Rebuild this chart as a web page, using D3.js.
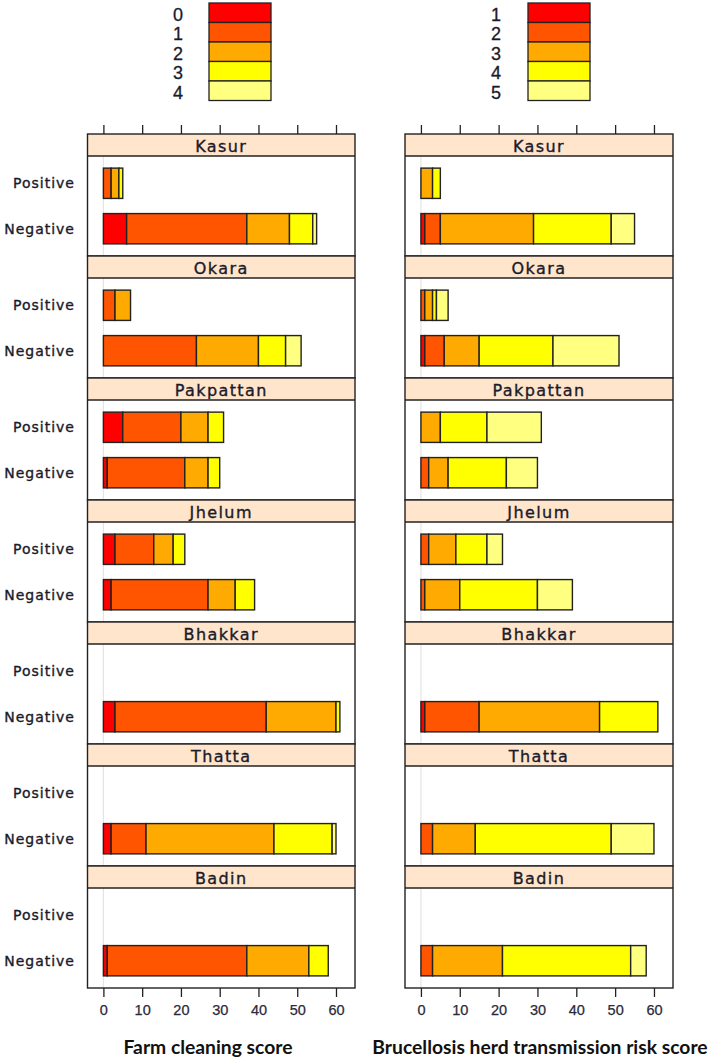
<!DOCTYPE html>
<html>
<head>
<meta charset="utf-8">
<script src="https://cdn.jsdelivr.net/npm/d3@7"></script>
<style>
  body { margin: 0; background: #fff; }
  svg { display: block; }
</style>
</head>
<body>
<script>
let districts = ['Kasur', 'Okara', 'Pakpattan', 'Jhelum', 'Bhakkar', 'Thatta', 'Badin'];
let statuses = ['Positive', 'Negative'];
let cleaningLevels = ['0', '1', '2', '3', '4'];
let riskLevels = ['1', '2', '3', '4', '5'];
let levelColors = ['#ff0000', '#ff5500', '#ffaa00', '#ffff00', '#ffff80'];
let xTicks = [0, 10, 20, 30, 40, 50, 60];

// number of farms per score level, one row per district
let cleaningPositive = [[0, 2, 2, 1, 0], [0, 3, 4, 0, 0], [5, 15, 7, 4, 0], [3, 10, 5, 3, 0], [0, 0, 0, 0, 0], [0, 0, 0, 0, 0], [0, 0, 0, 0, 0]];
let cleaningNegative = [[6, 31, 11, 6, 1], [0, 24, 16, 7, 4], [1, 20, 6, 3, 0], [2, 25, 7, 5, 0], [3, 39, 18, 1, 0], [2, 9, 33, 15, 1], [1, 36, 16, 5, 0]];
let riskPositive = [[0, 0, 3, 2, 0], [0, 1, 2, 1, 3], [0, 0, 5, 12, 14], [0, 2, 7, 8, 4], [0, 0, 0, 0, 0], [0, 0, 0, 0, 0], [0, 0, 0, 0, 0]];
let riskNegative = [[1, 4, 24, 20, 6], [1, 5, 9, 19, 17], [0, 2, 5, 15, 8], [0, 1, 9, 20, 9], [1, 14, 31, 15, 0], [0, 3, 11, 35, 11], [0, 3, 18, 33, 4]];

let svgWidth = 709, svgHeight = 1058;
let top0 = 134, stripH = 22, panelH = 100, period = 122;

let svg = d3.select('body').append('svg')
    .attr('width', svgWidth).attr('height', svgHeight)
    .style('font-family', 'Liberation Sans, Arial, sans-serif');

let yScale = d3.scaleLinear().domain([0.4, 2.6]).range([panelH, 0]);
let barH = yScale(0.4) - yScale(0.4 + 2 / 3);

let columns = [
    {x0: 87.5, x1: 355, levels: cleaningLevels, pos: cleaningPositive, neg: cleaningNegative,
     title: 'Farm cleaning score', titleX: 208, legendX: 209, labelX: 178, yLabels: true},
    {x0: 405, x1: 673, levels: riskLevels, pos: riskPositive, neg: riskNegative,
     title: 'Brucellosis herd transmission risk score', titleX: 540, legendX: 528, labelX: 496, yLabels: false}
];

columns.forEach(col => {
    let xScale = d3.scaleLinear().domain([-4.1, 64.9]).range([col.x0, col.x1]);
    let color = d3.scaleOrdinal().domain(col.levels).range(levelColors);

    // legend
    let leg = svg.append('g');
    let rowH = 19.5;
    leg.selectAll('rect').data(col.levels).enter().append('rect')
        .attr('x', col.legendX).attr('y', (d, i) => 3 + i * rowH)
        .attr('width', 62).attr('height', rowH)
        .attr('fill', d => color(d)).attr('stroke', '#222').attr('stroke-width', 1.3);
    leg.selectAll('text').data(col.levels).enter().append('text')
        .attr('x', col.labelX).attr('y', (d, i) => 3 + i * rowH + rowH / 2 + 2)
        .attr('text-anchor', 'middle').attr('dominant-baseline', 'central')
        .attr('font-size', 18).attr('fill', '#1a1a2a')
        .attr('stroke', '#1a1a2a').attr('stroke-width', 0.3)
        .text(d => d);

    districts.forEach((dist, di) => {
        let gy = top0 + di * period;
        let g = svg.append('g').attr('transform', 'translate(0,' + gy + ')');

        g.append('rect').attr('x', col.x0).attr('y', 0)
            .attr('width', col.x1 - col.x0).attr('height', stripH)
            .attr('fill', '#ffe5cc');
        g.append('text').attr('x', (col.x0 + col.x1) / 2).attr('y', stripH / 2 + 1)
            .attr('text-anchor', 'middle').attr('dominant-baseline', 'central')
            .attr('font-family', 'DejaVu Sans').attr('font-size', 16)
            .attr('letter-spacing', 1.4).attr('fill', '#1a1a2a')
            .attr('stroke', '#1a1a2a').attr('stroke-width', 0.35)
            .text(dist);

        let p = g.append('g').attr('transform', 'translate(0,' + stripH + ')');
        p.append('line')
            .attr('x1', xScale(0)).attr('x2', xScale(0))
            .attr('y1', 0).attr('y2', panelH)
            .attr('stroke', '#e4e4e4').attr('stroke-width', 1.2);

        let rows = [{s: 'Positive', y: 2, v: col.pos[di]}, {s: 'Negative', y: 1, v: col.neg[di]}];
        rows.forEach(r => {
            let segs = [];
            let acc = 0;
            r.v.forEach((n, li) => {
                if (n > 0) segs.push({lv: col.levels[li], a: acc, b: acc + n});
                acc += n;
            });
            p.selectAll(null).data(segs).enter().append('rect')
                .attr('x', d => xScale(d.a))
                .attr('width', d => xScale(d.b) - xScale(d.a))
                .attr('y', yScale(r.y) - barH / 2)
                .attr('height', barH)
                .attr('fill', d => color(d.lv))
                .attr('stroke', '#222').attr('stroke-width', 1.4);
            if (col.yLabels) {
                p.append('text').attr('x', 75).attr('y', yScale(r.y))
                    .attr('text-anchor', 'end').attr('dominant-baseline', 'central')
                    .attr('font-family', 'DejaVu Sans').attr('font-size', 14)
                    .attr('letter-spacing', 1).attr('fill', '#1a1a2a')
                    .attr('stroke', '#1a1a2a').attr('stroke-width', 0.35)
                    .text(r.s);
            }
        });

        g.append('line').attr('x1', col.x0).attr('x2', col.x1)
            .attr('y1', stripH).attr('y2', stripH)
            .attr('stroke', '#222').attr('stroke-width', 1.4);
        g.append('rect').attr('x', col.x0).attr('y', 0)
            .attr('width', col.x1 - col.x0).attr('height', period)
            .attr('fill', 'none').attr('stroke', '#222').attr('stroke-width', 1.4);
    });

    // top ticks (no labels)
    let topAxis = d3.axisTop(xScale).tickValues(xTicks).tickSize(9).tickFormat('');
    svg.append('g').attr('transform', 'translate(0,' + top0 + ')').call(topAxis)
        .call(a => a.select('.domain').remove())
        .call(a => a.selectAll('line').attr('stroke', '#222').attr('stroke-width', 1.3));

    let bottomY = top0 + districts.length * period;
    let bottomAxis = d3.axisBottom(xScale).tickValues(xTicks).tickSize(9).tickPadding(8);
    svg.append('g').attr('transform', 'translate(0,' + bottomY + ')').call(bottomAxis)
        .call(a => a.select('.domain').remove())
        .call(a => a.selectAll('line').attr('stroke', '#222').attr('stroke-width', 1.3))
        .call(a => a.selectAll('text').attr('font-size', 14.5).attr('fill', '#2a2a3a')
            .attr('stroke', '#2a2a3a').attr('stroke-width', 0.25)
            .attr('font-family', 'Liberation Sans, Arial, sans-serif'));

    svg.append('text').attr('x', col.titleX).attr('y', 1054)
        .attr('text-anchor', 'middle')
        .attr('font-family', 'Lato').attr('font-weight', 'bold').attr('font-size', 19.3)
        .attr('fill', '#111')
        .text(col.title);
});
</script>
</body>
</html>
